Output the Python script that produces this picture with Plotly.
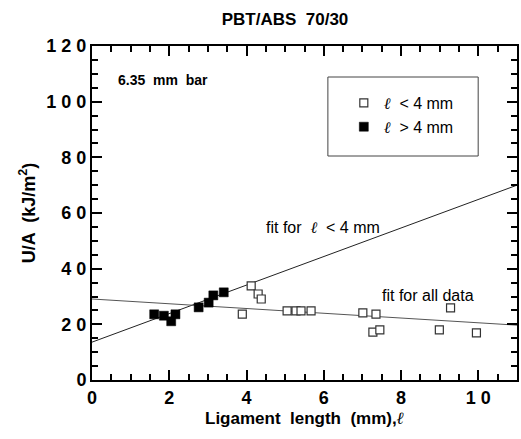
import plotly.graph_objects as go

# ---- data ----
filled_x = [1.61, 1.86, 2.05, 2.16, 2.76, 3.02, 3.14, 3.41]
filled_y = [23.6, 23.1, 21.1, 23.6, 26.1, 27.8, 30.4, 31.5]

open_x = [3.89, 4.12, 4.30, 4.38, 5.05, 5.28, 5.41, 5.67, 7.01, 7.35, 7.27, 7.45, 8.99, 9.28, 9.95]
open_y = [23.7, 33.8, 30.9, 29.1, 24.8, 24.8, 24.8, 24.8, 24.1, 23.7, 17.2, 18.0, 18.0, 25.9, 16.9]

fit_x = [0, 11]
fit_lt4_y = [13.6, 70.0]
fit_all_y = [29.1, 19.7]

x_tickvals = [0, 2, 4, 6, 8, 10]
x_ticktext = ["0", "2", "4", "6", "8", "1 0"]
y_tickvals = [0, 20, 40, 60, 80, 100, 120]
y_ticktext = ["0", "2 0", "4 0", "6 0", "8 0", "1 0 0", "1 2 0"]

FONT = "Liberation Sans, Arial, Helvetica, sans-serif"
ELL = "<span style='font-family:DejaVu Serif;font-style:italic'>ℓ</span>"

fig = go.Figure()

fig.add_trace(go.Scatter(x=fit_x, y=fit_lt4_y, mode="lines",
                         line=dict(color="#222", width=1), showlegend=False, hoverinfo="skip"))
fig.add_trace(go.Scatter(x=fit_x, y=fit_all_y, mode="lines",
                         line=dict(color="#555", width=1), showlegend=False, hoverinfo="skip"))

fig.add_trace(go.Scatter(x=open_x, y=open_y, mode="markers", name=f"{ELL}  < 4 mm",
                         marker=dict(symbol="square", size=8, color="white",
                                     line=dict(color="#333", width=1.2))))
fig.add_trace(go.Scatter(x=filled_x, y=filled_y, mode="markers", name=f"{ELL}  > 4 mm",
                         marker=dict(symbol="square", size=9, color="black",
                                     line=dict(color="black", width=0.5))))

axis_common = dict(showline=True, linecolor="black", linewidth=2, mirror="allticks",
                   ticks="inside", ticklen=10, tickwidth=2, tickcolor="black",
                   showgrid=False, zeroline=False,
                   tickfont=dict(family=FONT, size=18, color="black", weight="bold"))

fig.update_xaxes(range=[0, 11], tickvals=x_tickvals, ticktext=x_ticktext,
                 minor=dict(ticks="inside", ticklen=6, tickwidth=1.5, dtick=0.5, tick0=0, tickcolor="black"),
                 title=dict(text="Ligament  length  (mm)," + ELL,
                            font=dict(family=FONT, size=17, color="black", weight="bold"), standoff=4),
                 **axis_common)
fig.update_yaxes(range=[0, 120], tickvals=y_tickvals, ticktext=y_ticktext,
                 minor=dict(ticks="inside", ticklen=6, tickwidth=1.5, dtick=5, tick0=0, tickcolor="black"),
                 title=dict(text="U/A  (kJ/m<sup>2</sup>)",
                            font=dict(family=FONT, size=18, color="black", weight="bold"), standoff=6),
                 **axis_common)

fig.add_shape(type="rect", xref="paper", yref="paper",
              x0=(329 - 92) / 427, x1=(480 - 92) / 427,
              y0=(380 - 156) / 334, y1=(380 - 77) / 334,
              line=dict(color="#444", width=1), fillcolor="rgba(0,0,0,0)")

fig.add_annotation(text="6.35  mm  bar", xref="paper", yref="paper",
                   x=(116 - 92) / 427, y=(380 - 80) / 334, xanchor="left", yanchor="middle",
                   showarrow=False, font=dict(family=FONT, size=14, color="black", weight="bold"))
fig.add_annotation(text="fit for  " + ELL + "  < 4 mm", x=(324 - 92) / 38.8, y=(380 - 227) / 2.785,
                   xanchor="center", yanchor="middle", showarrow=False,
                   font=dict(family=FONT, size=16, color="black"))
fig.add_annotation(text="fit for all data", x=(429.5 - 92) / 38.8, y=(380 - 295) / 2.785,
                   xanchor="center", yanchor="middle", showarrow=False,
                   font=dict(family=FONT, size=16, color="black"))

fig.update_layout(
    width=521, height=439,
    margin=dict(l=92, r=2, t=46, b=59),
    paper_bgcolor="white", plot_bgcolor="white",
    title=dict(text="PBT/ABS  70/30", x=285 / 521, xanchor="center", y=1 - 19 / 439, yanchor="middle",
               font=dict(family=FONT, size=17, color="black", weight="bold")),
    legend=dict(x=(345 - 92) / 427, y=(380 - 86) / 334, xanchor="left", yanchor="top",
                bgcolor="rgba(0,0,0,0)", borderwidth=0,
                font=dict(family=FONT, size=16, color="black"), itemwidth=30),
    showlegend=True,
)

fig.write_html("out.html")
